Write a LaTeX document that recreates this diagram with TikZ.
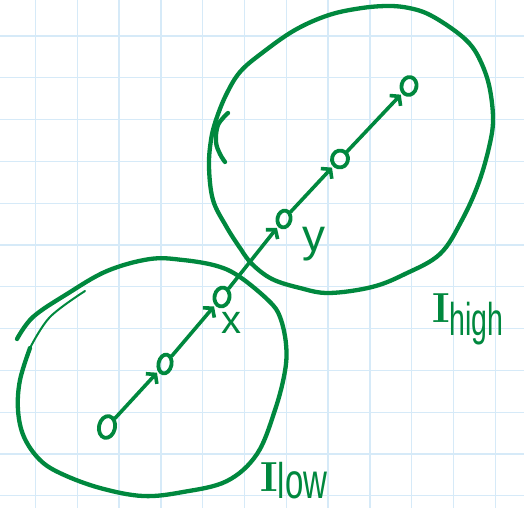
\documentclass[tikz,border=0pt]{standalone}
\usepackage{fontspec}
\usepackage{graphicx}
\setsansfont{Liberation Sans}
\usetikzlibrary{arrows.meta,shapes.geometric}
\definecolor{pen}{RGB}{0,136,62}
\definecolor{gridc}{RGB}{214,234,248}
\begin{document}
\begin{tikzpicture}[x=1pt,y=-1pt,
  pt/.style={draw=pen, ellipse, line width=3.8pt, minimum width=12pt, minimum height=17pt, inner sep=0pt, rotate=-12},
  edge/.style={draw=pen, line width=3.6pt, line cap=round, -{Straight Barb[length=6pt,width=15pt]}, shorten >=1.5pt},
  stroke/.style={draw=pen, line width=4.3pt, line cap=round, line join=round},
  lbl/.style={text=pen, inner sep=0pt}]
\fill[white] (0,0) rectangle (524,508);
\useasboundingbox (0,0) rectangle (524,508);
% grid
\foreach \i in {0,...,11} {
  \draw[gridc, line width=1.3pt] ({35.5+41.8*\i},0) -- ({35.5+41.8*\i},508);
  \draw[gridc, line width=1.3pt] (0,{36+41.8*\i}) -- (524,{36+41.8*\i});
}
% lower region
\draw[draw=pen, line width=2pt, line cap=round] plot[smooth, tension=0.6] coordinates {(85,291) (50,317) (30,348)};
\draw[stroke] plot[smooth, tension=0.6] coordinates {(30,348) (20,380) (18,410) (24,437) (40,460) (62,474) (100,488) (143,496) (183,492) (227,481) (257,454) (275,410) (285,371) (286,344) (280,317) (269,301) (240,277) (217,266) (183,260) (150,259) (107,271) (67,294) (33,317) (17,339)};
% upper region
\draw[stroke] plot[smooth cycle, tension=0.6] coordinates {(262,53) (295,30) (329,15) (362,8) (389,6) (409,8) (428,14) (451,28) (469,43) (480,60) (489,85) (493,117) (490,143) (479,182) (462,220) (440,254) (405,274) (372,287) (329,293) (300,288) (272,279) (252,264) (240,248) (226,226) (213,200) (209,167) (211,140) (216,120) (226,95) (240,72)};
\draw[stroke] plot[smooth, tension=0.6] coordinates {(228,113) (218,125) (216,142) (220,154) (225,162)};
% states
\node[pt, minimum width=16pt, minimum height=22pt] (n1) at (107,427) {};
\node[pt, minimum width=13pt, minimum height=19pt] (n2) at (165,364) {};
\node[pt, minimum width=15pt, minimum height=19pt] (n3) at (222,297) {};
\node[pt, minimum width=13pt, minimum height=17pt] (n4) at (284,219) {};
\node[pt, minimum width=16pt, minimum height=17pt] (n5) at (340,159) {};
\node[pt, minimum width=15pt, minimum height=18pt] (n6) at (409,86) {};
\draw[edge] (n1) -- (n2);
\draw[edge] (n2) -- (n3);
\draw[edge] (n3) -- (n4);
\draw[edge] (n4) -- (n5);
\draw[edge] (n5) -- (n6);
% labels
\node[lbl, font=\sffamily\fontsize{40}{40}\selectfont] (lx) at (231,323) {x};
\node[lbl, font=\sffamily\fontsize{46}{46}\selectfont] (ly) at (314,244) {y};
\node[lbl, anchor=base west] (lhigh) at (432,322) {\fontsize{42}{42}\selectfont\bfseries I\raisebox{-13pt}{\scalebox{0.62}[1]{\mdseries\sffamily\fontsize{46}{46}\selectfont high}}};
\node[lbl, anchor=base west] (llow) at (260,491) {\fontsize{42}{42}\selectfont\bfseries I\raisebox{-7pt}{\scalebox{0.66}[1]{\mdseries\sffamily\fontsize{50}{50}\selectfont low}}};
\end{tikzpicture}
\end{document}
